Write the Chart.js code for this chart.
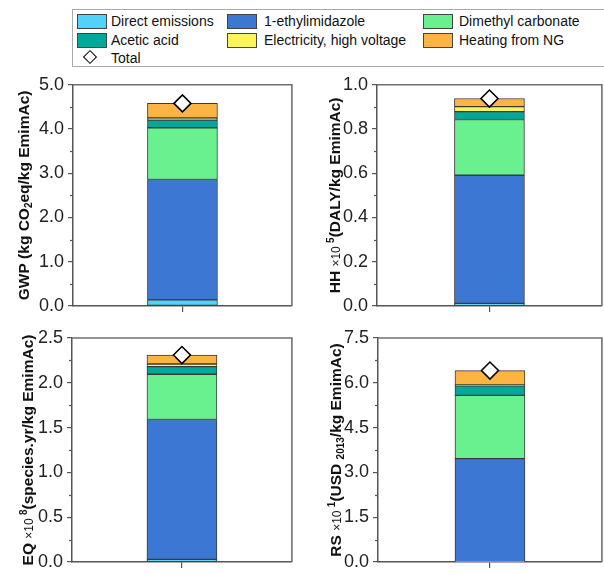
<!DOCTYPE html>
<html><head><meta charset="utf-8">
<script src="https://cdn.jsdelivr.net/npm/chart.js@4.4.1/dist/chart.umd.min.js"></script>
<style>
html,body{margin:0;padding:0;width:604px;height:575px;overflow:hidden;background:#fff;font-family:"Liberation Sans",Arial,sans-serif;}
.pan{position:absolute;}
#legend{position:absolute;left:72px;top:9px;width:560px;height:58px;border:1px solid #aaa;box-sizing:border-box;}
.li{position:absolute;font-size:14px;color:#111;white-space:nowrap;line-height:16px;}
.sw{position:absolute;width:30px;height:15px;box-sizing:border-box;border:1px solid #444;}
.dm{position:absolute;width:8px;height:8px;border:1.7px solid #000;background:#fff;transform:rotate(45deg);}
</style></head><body>
<div id="legend"></div>
<canvas id="c1" class="pan" width="302" height="260" style="left:0;top:70px"></canvas>
<canvas id="c2" class="pan" width="310" height="260" style="left:302px;top:70px"></canvas>
<canvas id="c3" class="pan" width="302" height="260" style="left:0;top:320px"></canvas>
<canvas id="c4" class="pan" width="310" height="260" style="left:302px;top:320px"></canvas>
<script>
// ---- data ----
const categories = ['EmimAc'];
const seriesNames = ['Direct emissions','1-ethylimidazole','Dimethyl carbonate','Acetic acid','Electricity, high voltage','Heating from NG'];
const seriesColors = ['#4FD3FB','#3C78D3','#69F190','#00A89C','#FFF25A','#FDB443'];
const totalName = 'Total';
const gwpValues = [0.14, 2.72, 1.17, 0.17, 0.05, 0.33];
const gwpTotal  = [4.58];
const hhValues  = [0.012, 0.579, 0.252, 0.036, 0.022, 0.037];
const hhTotal   = [0.938];
const eqValues  = [0.03, 1.56, 0.505, 0.085, 0.03, 0.10];
const eqTotal   = [2.31];
const rsValues  = [0.01, 3.45, 2.12, 0.32, 0.04, 0.47];
const rsTotal   = [6.41];
const gwpTicks = [0, 1, 2, 3, 4, 5];
const hhTicks  = [0, 0.2, 0.4, 0.6, 0.8, 1.0];
const eqTicks  = [0, 0.5, 1.0, 1.5, 2.0, 2.5];
const rsTicks  = [0, 1.5, 3.0, 4.5, 6.0, 7.5];

const FAM = '"Liberation Sans", Arial, sans-serif';

// ---- legend (HTML) ----
(function(){
  const lg = document.getElementById('legend');
  const cols = [[4,38],[154,191],[350,386]];
  const rows = [11,30,48];
  const pos = [[0,0],[1,0],[2,0],[0,1],[1,1],[2,1]];
  seriesNames.forEach((n,i)=>{
    const [c,r] = pos[i];
    const sw = document.createElement('div'); sw.className='sw';
    sw.style.left = cols[c][0]+'px'; sw.style.top = (rows[r]-7.5)+'px'; sw.style.background = seriesColors[i];
    lg.appendChild(sw);
    const t = document.createElement('div'); t.className='li';
    t.style.left = cols[c][1]+'px'; t.style.top = (rows[r]-8)+'px'; t.textContent = n;
    lg.appendChild(t);
  });
  const d = document.createElement('div'); d.className='dm'; d.style.left='12px'; d.style.top=(rows[2]-6)+'px'; lg.appendChild(d);
  const t = document.createElement('div'); t.className='li'; t.style.left=cols[0][1]+'px'; t.style.top=(rows[2]-8)+'px'; t.textContent=totalName; lg.appendChild(t);
})();

// ---- plugins ----
const framePlugin = {
  id:'frame',
  afterDraw(chart){
    const {ctx, chartArea:a} = chart;
    const y = chart.scales.y;
    ctx.save();
    ctx.strokeStyle = '#707070'; ctx.lineWidth = 1.6;
    ctx.beginPath(); ctx.moveTo(a.left, a.top); ctx.lineTo(a.right, a.top); ctx.lineTo(a.right, a.bottom); ctx.stroke();
    ctx.strokeStyle = '#555'; ctx.lineWidth = 1.2;
    const tk = y.ticks.map(t=>t.value);
    for (let i=0;i<tk.length-1;i++){
      const py = Math.round(y.getPixelForValue((tk[i]+tk[i+1])/2))+0.5;
      ctx.beginPath(); ctx.moveTo(a.left-3, py); ctx.lineTo(a.left, py); ctx.stroke();
    }
    ctx.restore();
  }
};
const titlePlugin = {
  id:'ytitle',
  afterDraw(chart, args, opts){
    const {ctx, chartArea:a} = chart;
    const segs = opts.segs; if(!segs) return;
    const fontOf = k => k==='b' ? 'bold 15.5px '+FAM : k==='n' ? '12px '+FAM : 'bold 10px '+FAM;
    ctx.save();
    let total = 0;
    segs.forEach(s=>{ ctx.font = fontOf(s[1]); total += ctx.measureText(s[0]).width; });
    const cy = (a.top+a.bottom)/2;
    ctx.translate(opts.x + 5.5, cy);
    ctx.rotate(-Math.PI/2);
    ctx.fillStyle = '#111'; ctx.textBaseline = 'alphabetic'; ctx.textAlign='left';
    let x = -total/2;
    segs.forEach(s=>{
      ctx.font = fontOf(s[1]);
      const off = s[1]==='sub' ? 3.5 : s[1]==='sup' ? -6 : 0;
      ctx.fillText(s[0], x, off);
      x += ctx.measureText(s[0]).width;
    });
    ctx.restore();
  }
};

function makeChart(id, vals, total, ticks, area, segs, tx){
  const canvas = document.getElementById(id);
  const W = canvas.width, H = canvas.height;
  const datasets = seriesNames.map((n,i)=>({
    label:n, data:[vals[i]], backgroundColor:seriesColors[i], borderColor:'#3a3a3a',
    borderWidth:1, borderSkipped:false, barThickness:70, stack:'s', order:1
  }));
  datasets.push({type:'line', label:totalName, data:total, showLine:false, pointStyle:'rectRot',
    pointRadius:8.5, pointBackgroundColor:'#fff', pointBorderColor:'#000', pointBorderWidth:1.6, stack:'t', order:0, clip:false});
  return new Chart(canvas, {
    type:'bar',
    data:{labels:categories, datasets},
    options:{
      responsive:false, animation:false, devicePixelRatio:1,
      layout:{padding:{left:0, top:area.top, right:W-area.right, bottom:0}},
      plugins:{legend:{display:false}, tooltip:{enabled:false}, ytitle:{segs, x:tx}},
      scales:{
        x:{stacked:true, offset:true,
           grid:{offset:false, drawOnChartArea:false, tickLength:6, color:'#555', lineWidth:1.2},
           border:{color:'#555', width:1.5},
           ticks:{callback:()=> '', padding:0},
           afterFit:s=>{ s.height = H-area.bottom; }},
        y:{stacked:true, min:ticks[0], max:ticks[ticks.length-1],
           afterBuildTicks:s=>{ s.ticks = ticks.map(v=>({value:v})); },
           ticks:{callback:v=>Number(v).toFixed(1), font:{family:FAM, size:18}, color:'#222', padding:4},
           grid:{drawOnChartArea:false, tickLength:5, color:'#555', lineWidth:1.2},
           border:{color:'#555', width:1.5},
           afterFit:s=>{ s.width = area.left; }}
      }
    },
    plugins:[framePlugin, titlePlugin]
  });
}

makeChart('c1', gwpValues, gwpTotal, gwpTicks, {left:73, top:11, right:298, bottom:236},
  [['GWP (kg CO','b'],['2','sub'],['eq/kg EmimAc)','b']], 23);
makeChart('c2', hhValues, hhTotal, hhTicks, {left:75, top:11, right:307, bottom:236},
  [['HH ','b'],['×10 ','n'],['5','sup'],['(DALY/kg EmimAc)','b']], 32);
makeChart('c3', eqValues, eqTotal, eqTicks, {left:72, top:18, right:297, bottom:242},
  [['EQ ','b'],['×10 ','n'],['8','sup'],['(species.yr/kg EmimAc)','b']], 27);
makeChart('c4', rsValues, rsTotal, rsTicks, {left:76, top:18, right:307, bottom:242},
  [['RS ','b'],['×10 ','n'],['1','sup'],['(USD ','b'],['2013','sub'],['/kg EmimAc)','b']], 33);
</script>
</body></html>
